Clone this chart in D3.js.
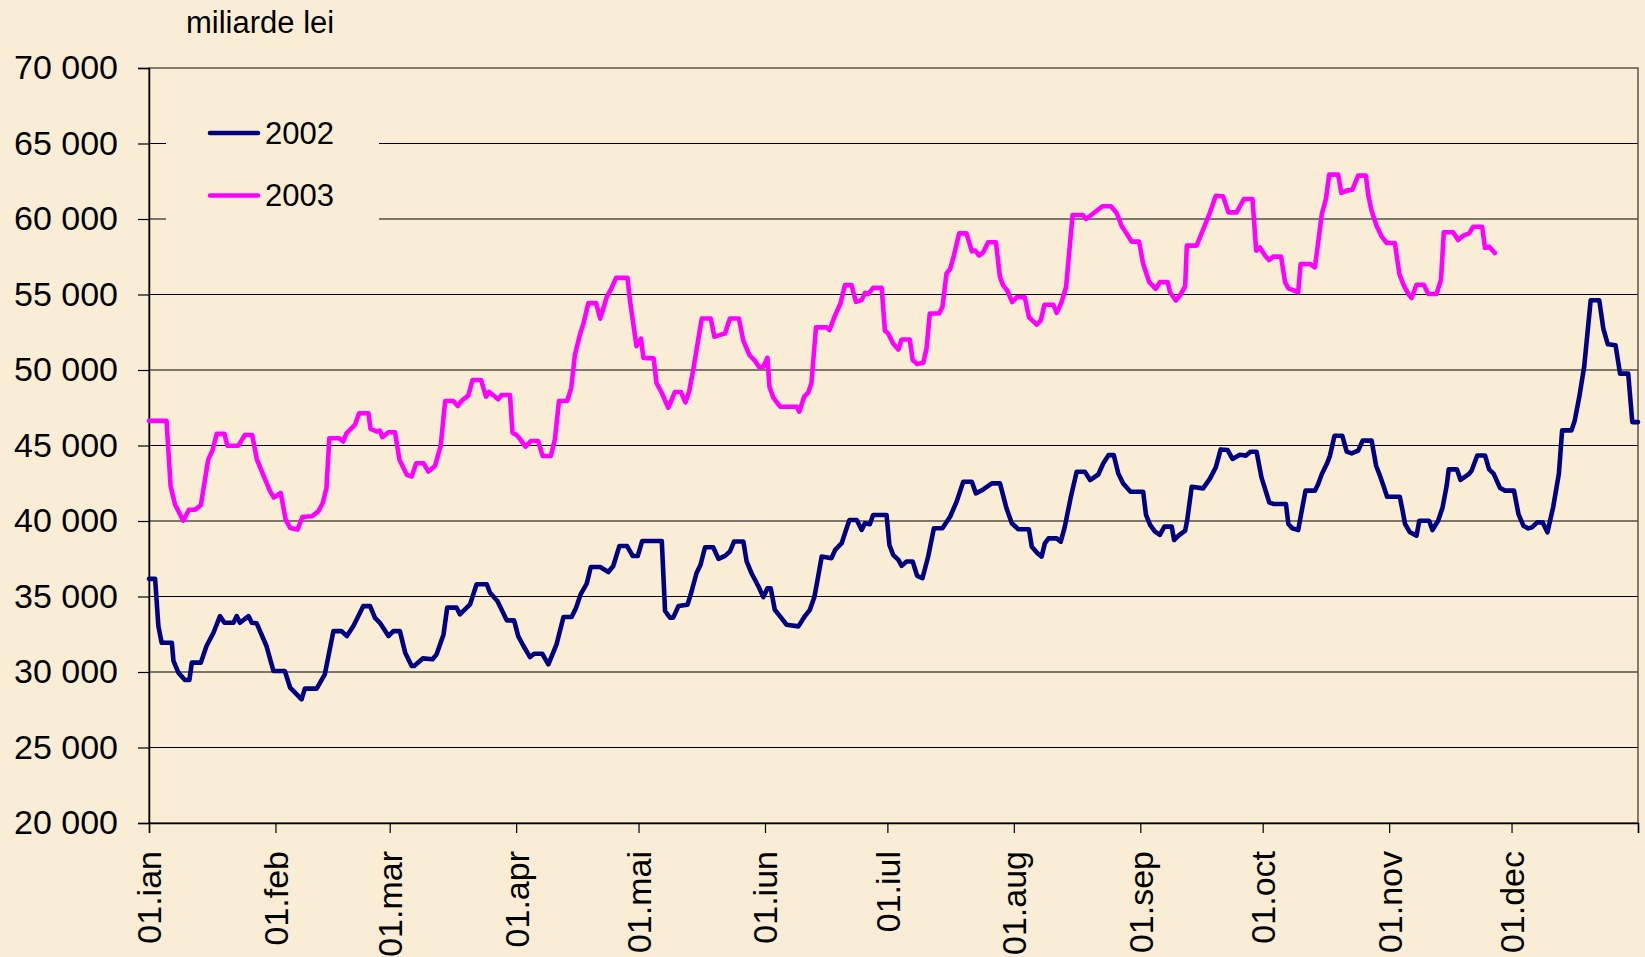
<!DOCTYPE html>
<html>
<head>
<meta charset="utf-8">
<script src="https://cdn.jsdelivr.net/npm/d3@7"></script>
<style>
  html, body { margin: 0; padding: 0; background: #f9eed5; }
  svg { display: block; font-family: "Liberation Sans", Arial, sans-serif; }
</style>
</head>
<body>
<div id="chart"></div>
<script>
// date (zi din an) si valori
const days2002 = [0,1.5,2.3,3.1,5.6,6.0,7.2,8.8,9.9,10.5,12.7,14.1,15.8,17.4,18.5,20.7,21.5,22.3,24.4,25.2,26.4,28.8,30.5,33.3,34.6,37.4,38.2,41.1,43.1,45.2,47.2,48.5,50.1,52.5,54.2,55.4,56.6,58.7,59.9,61.5,62.8,64.4,65.0,67.1,69.5,70.5,72.2,73.1,75.4,76.2,78.7,80.3,82.8,83.6,85.4,87.7,89.5,90.5,91.8,93.4,94.4,96.4,97.9,99.9,101.6,103.6,104.7,105.8,107.3,108.3,110.6,112.6,113.8,115.3,117.2,118.6,119.8,120.9,125.7,126.5,127.7,128.5,129.8,132.0,133.0,134.2,135.2,136.3,138.3,139.6,141.2,142.4,143.4,145.7,146.5,147.7,149.4,150.6,151.6,152.4,153.4,154.7,156.3,159.2,160.6,162.0,163.1,164.1,164.9,167.3,168.2,169.8,171.0,171.7,173.5,174.7,175.5,176.7,177.5,180.8,181.5,182.4,183.7,184.5,185.7,187.2,188.3,189.6,191.0,192.4,194.5,196.4,198.0,199.6,201.7,202.7,204.5,206.6,208.6,210.2,211.5,213.1,215.7,216.4,217.8,218.8,219.6,220.5,222.5,223.5,224.5,225.9,227.4,229.4,230.7,232.7,233.9,235.2,236.5,237.6,238.8,240.6,243.7,244.4,245.4,246.6,247.8,248.9,250.7,251.3,252.3,254.0,254.5,255.6,258.4,260.1,261.5,262.7,264.4,265.6,267.4,268.9,270.0,271.5,272.7,274.6,275.6,278.7,279.3,280.3,281.7,282.5,283.5,285.8,286.6,287.5,288.7,289.5,290.6,292.5,293.6,294.8,296.4,297.5,299.7,300.8,301.6,302.6,303.5,306.6,307.3,307.9,309.1,310.7,311.4,313.8,314.6,316.0,317.1,318.1,318.6,320.6,321.5,323.5,324.2,325.6,327.5,328.5,329.6,331.2,332.4,334.6,335.7,336.9,338.1,339.0,340.3,341.6,342.8,344.2,345.6,346.4,348.7,349.5,350.6,351.8,353.4,355.5,356.5,357.6,359.5,360.6,362.6,363.6,365];
const values2002 = [36170,36170,33040,31940,31940,30730,29960,29470,29470,30620,30620,31720,32600,33700,33260,33260,33700,33260,33700,33260,33220,31720,30070,30070,28960,28190,28900,28900,29850,32710,32710,32380,33040,34360,34360,33590,33260,32380,32710,32710,31280,30400,30400,30900,30840,31170,32490,34260,34260,33820,34480,35810,35810,35250,34700,33420,33420,32380,31720,30990,31210,31210,30510,31830,33640,33640,34260,35140,35850,36950,36950,36620,37020,38340,38340,37680,37680,38680,38680,34040,33600,33600,34370,34450,35330,36540,37100,38260,38260,37490,37690,37980,38640,38640,37320,36540,35660,34960,35550,35550,34120,33680,33130,33020,33630,34120,34960,36430,37650,37540,38090,38530,39520,40070,40070,39410,39850,39790,40400,40400,38420,37760,37430,37030,37320,37320,36370,36210,37650,39520,39520,40300,41300,42600,42600,41830,42090,42490,42490,40840,39850,39450,39450,38300,37860,37640,38520,38850,38850,38630,39630,41500,43260,43260,42710,43080,43810,44360,44360,43150,42490,41940,41940,40400,39740,39300,39080,39630,39630,38740,39010,39360,40070,42270,42160,42820,43550,44740,44700,44110,44390,44330,44590,44590,42890,41240,41130,41130,39800,39510,39400,40570,42010,42010,42450,43110,43770,44330,45650,45650,44590,44480,44660,45320,45320,43660,43110,42340,41610,41610,40680,39800,39250,39030,40020,40020,39400,40020,40900,42340,43420,43420,42720,43100,43330,44340,44340,43420,43140,42180,42010,42010,40460,39690,39510,39580,39910,39910,39250,40910,43120,46000,46000,46660,48210,50200,54620,54620,52740,51700,51640,49760,49760,46550,46550];

const days2003 = [0,4.3,5.3,6.4,8.4,9.8,11.3,12.7,14.5,15.6,16.6,18.5,19.2,21.9,23.5,25.3,26.4,28.0,29.7,30.6,32.3,33.5,34.6,36.4,37.6,39.9,41.5,42.6,43.5,44.2,46.6,47.6,48.4,50.5,51.5,53.8,54.3,55.8,56.6,57.2,58.7,60.3,61.4,63.2,64.4,65.5,67.3,68.5,70.1,71.5,72.6,74.6,75.7,76.6,78.3,79.3,81.4,82.6,83.4,85.6,86.4,88.5,89.1,90.1,91.0,92.3,93.6,95.4,96.5,98.5,99.5,100.5,102.5,103.5,104.4,105.7,106.5,107.7,109.6,110.6,112.2,113.3,114.5,117.3,117.9,118.6,119.5,120.6,121.2,123.7,124.4,125.7,127.3,128.9,130.4,131.5,132.4,133.4,135.5,137.7,138.6,139.8,141.2,142.4,144.6,145.7,147.2,148.5,149.6,150.6,151.6,152.1,153.0,154.7,158.8,159.4,160.6,161.6,162.4,163.5,166.1,166.8,168.2,169.5,170.6,172.2,173.3,174.7,175.5,176.3,177.5,179.6,180.4,181.2,182.4,183.7,184.5,186.5,187.2,188.3,189.8,190.6,191.4,193.7,194.5,195.5,196.4,197.3,198.6,200.4,201.7,202.5,203.5,204.5,205.7,207.6,208.6,209.4,210.4,211.6,212.7,214.7,215.7,217.6,218.6,219.5,221.7,222.5,223.7,224.8,226.4,228.9,229.7,231.3,233.7,235.8,237.2,238.4,239.7,240.9,242.7,243.7,245.2,246.8,247.8,249.7,250.3,251.7,252.7,254.0,254.4,256.8,257.8,258.8,260.1,261.5,263.3,264.6,266.6,268.4,270.5,271.4,272.3,273.6,274.6,275.6,277.5,278.5,279.3,280.3,281.7,282.3,284.6,285.8,286.6,287.5,288.5,289.3,291.5,292.3,293.6,295.0,296.4,298.3,298.9,299.7,300.9,302.2,303.4,305.4,306.5,307.5,308.7,309.5,310.7,312.5,313.6,315.6,316.7,317.4,319.7,320.9,322.2,323.6,324.6,326.8,327.5,328.5,329.9];
const values2003 = [46630,46630,42290,41080,40020,40750,40750,41040,44050,44700,45770,45770,44980,44980,45700,45700,44120,43060,41960,41560,41850,40090,39540,39430,40260,40310,40640,41190,42180,45480,45480,45260,45810,46370,47140,47140,46100,45930,45990,45550,45880,45880,44050,43060,42950,43820,43820,43270,43640,44970,47950,47950,47620,47950,48320,49340,49340,48230,48540,48060,48340,48340,45850,45700,45410,44920,45300,45300,44300,44300,45410,47950,47950,48800,50990,52410,53070,54430,54430,53400,54820,55370,56100,56100,54610,53290,51580,52080,50800,50770,49140,48480,47500,48540,48540,47850,48560,50000,53410,53410,52200,52310,52420,53410,53410,51930,50990,50620,50180,50220,50810,48890,48190,47570,47570,47240,48230,48500,49160,52820,52820,52640,53630,54400,55620,55620,54510,54630,55110,55020,55440,55440,52600,52420,51760,51360,52020,52020,50660,50390,50480,51430,53740,53740,54180,56390,56700,57580,59050,59050,57860,57910,57580,57800,58460,58460,56150,55590,55260,54490,54820,54820,53500,53000,53280,54320,54320,53790,54490,55480,60260,60260,60000,60330,60840,60840,60400,59560,59010,58500,58500,57030,55820,55370,55820,55820,55150,54600,54930,55530,58240,58240,58900,59560,60440,61540,61500,60440,60440,61320,61320,57900,58120,57570,57280,57510,57510,55810,55410,55300,55140,57020,57020,56800,58450,60330,61320,62940,62940,61720,61880,61940,62870,62870,61550,60550,59560,58830,58410,58410,56360,55650,55030,54770,55650,55650,55030,55030,55960,59120,59120,58610,58900,59050,59490,59490,58080,58170,57750];

const monthDays = [0, 31, 59, 90, 120, 151, 181, 212, 243, 273, 304, 334];
const monthLabels = ["01.ian", "01.feb", "01.mar", "01.apr", "01.mai", "01.iun", "01.iul", "01.aug", "01.sep", "01.oct", "01.nov", "01.dec"];
const yTicks = [20000, 25000, 30000, 35000, 40000, 45000, 50000, 55000, 60000, 65000, 70000];
const seriesNames = ["2002", "2003"];
const seriesColors = ["#000080", "#ff00ff"];

const W = 1645, H = 957;
const margin = { top: 68, right: 7, bottom: 134, left: 149 };
const width = W - margin.left - margin.right,
    height = H - margin.top - margin.bottom;

const fmt = d3.formatLocale({ decimal: ",", thousands: " ", grouping: [3], currency: ["", ""] }).format(",d");

const svg = d3.select("#chart").append("svg")
    .attr("width", W)
    .attr("height", H);

svg.append("rect").attr("width", W).attr("height", H).attr("fill", "#f9eed5");

const g = svg.append("g")
    .attr("transform", "translate(" + margin.left + "," + margin.top + ")");

const x = d3.scaleLinear().domain([0, 365]).range([0, width]);
const y = d3.scaleLinear().domain([20000, 70000]).range([height, 0]);

// grila orizontala
g.selectAll(".grid")
    .data(yTicks.slice(1, -1))
    .join("line")
    .attr("x1", 0).attr("x2", width)
    .attr("y1", d => y(d)).attr("y2", d => y(d))
    .attr("stroke", "#000").attr("stroke-width", 1);

// chenar
g.append("rect")
    .attr("width", width).attr("height", height)
    .attr("fill", "none").attr("stroke", "#555").attr("stroke-width", 1.5);

// axa Y
const yAxis = g.append("g")
    .call(d3.axisLeft(y).tickValues(yTicks).tickFormat(fmt).tickSize(11).tickPadding(20));
yAxis.select(".domain").attr("stroke", "#000").attr("stroke-width", 1.5);
yAxis.selectAll(".tick line").attr("stroke", "#000").attr("stroke-width", 1.2);
yAxis.selectAll("text").attr("font-size", 34).attr("fill", "#000")
    .attr("font-family", "'Liberation Sans', Arial, sans-serif");

// axa X
const xAxis = g.append("g")
    .attr("transform", "translate(0," + height + ")")
    .call(d3.axisBottom(x).tickValues(monthDays.concat([365])).tickSize(10)
        .tickFormat((d, i) => monthLabels[i] || ""));
xAxis.select(".domain").attr("stroke", "#000").attr("stroke-width", 1.5);
xAxis.selectAll(".tick line").attr("stroke", "#000").attr("stroke-width", 1.2);
xAxis.selectAll("text")
    .attr("font-size", 34).attr("fill", "#000")
    .attr("font-family", "'Liberation Sans', Arial, sans-serif")
    .attr("text-anchor", "end")
    .attr("transform", "translate(0,28) rotate(-90)")
    .attr("x", 0).attr("y", 0).attr("dy", "0.35em");

// liniile
const lineGen = line => d3.line()
    .x((d, i) => x(line.days[i]))
    .y(d => y(d));

const series = [
    { name: seriesNames[0], days: days2002, values: values2002, color: seriesColors[0] },
    { name: seriesNames[1], days: days2003, values: values2003, color: seriesColors[1] }
];

series.forEach(s => {
    g.append("path")
        .datum(s.values)
        .attr("fill", "none")
        .attr("stroke", s.color)
        .attr("stroke-width", 4.6)
        .attr("stroke-linejoin", "round")
        .attr("stroke-linecap", "round")
        .attr("d", lineGen(s));
});

// legenda
const legend = svg.append("g");
legend.append("rect")
    .attr("x", 166).attr("y", 98).attr("width", 213).attr("height", 125)
    .attr("fill", "#f9eed5");
series.forEach((s, i) => {
    const ly = 133 + i * 62.5;
    legend.append("line")
        .attr("x1", 210).attr("x2", 258).attr("y1", ly).attr("y2", ly)
        .attr("stroke", s.color).attr("stroke-width", 4.6)
        .attr("stroke-linecap", "round");
    legend.append("text")
        .attr("x", 265).attr("y", ly).attr("dy", "0.35em")
        .attr("font-size", 31).attr("fill", "#000")
        .text(s.name);
});

// unitatea
svg.append("text")
    .attr("x", 186).attr("y", 33)
    .attr("font-size", 31).attr("fill", "#000")
    .text("miliarde lei");
</script>
</body>
</html>
